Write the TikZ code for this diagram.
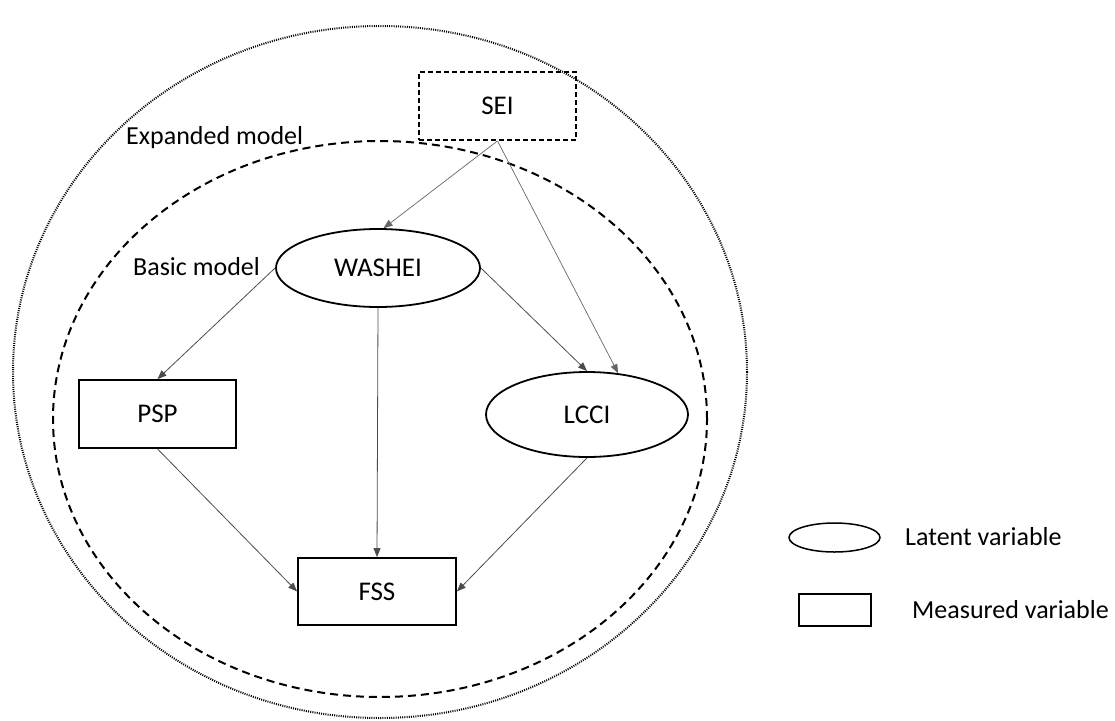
\documentclass[tikz,border=0pt]{standalone}
\usepackage{fontspec}
\setmainfont{Carlito}
\usetikzlibrary{arrows.meta,shapes.geometric}
\begin{document}
\begin{tikzpicture}[x=1pt,y=-1pt,
  lbl/.style={inner sep=0pt,anchor=west,font=\fontsize{26}{31}\selectfont},
  latent/.style={ellipse,draw=black,line width=1.8pt,inner sep=0pt,font=\fontsize{27}{32}\selectfont},
  measured/.style={rectangle,draw=black,line width=1.8pt,inner sep=0pt,font=\fontsize{27}{32}\selectfont},
  conn/.style={draw=black!70,line width=0.8pt,-{Triangle[length=9pt,width=7pt]}},
  connlight/.style={draw=black!60,line width=0.7pt,-{Triangle[length=9pt,width=7pt]}},
  outerring/.style={draw=black,line width=2pt,dash pattern=on 1pt off 1.2pt},
  innerring/.style={draw=black,line width=2pt,dash pattern=on 8pt off 5pt},
]
\useasboundingbox (0,0) rectangle (1115,720);
% model boundaries
\draw[outerring] (380,372) ellipse [x radius=367pt, y radius=346pt];
\draw[innerring] (380,419) ellipse [x radius=327pt, y radius=278pt];
% labels
\node[lbl] (exp) at (126,138) {Expanded model};
\node[lbl] (bas) at (133,267) {Basic model};
% nodes
\node[measured,dash pattern=on 5pt off 3pt,minimum width=157pt,minimum height=68pt] (SEI) at (497.5,106) {SEI};
\node[latent,fill=white,minimum width=204pt,minimum height=78pt] (WASHEI) at (378,268) {WASHEI};
\node[measured,minimum width=157pt,minimum height=68pt] (PSP) at (157.5,414) {PSP};
\node[latent,minimum width=202pt,minimum height=85pt] (LCCI) at (587,414.5) {LCCI};
\node[measured,minimum width=158pt,minimum height=67pt] (FSS) at (377,591.5) {FSS};
% connectors
\draw[connlight] (SEI.south) -- (WASHEI.82);
\draw[connlight] (SEI.south) -- (LCCI.53);
\draw[conn] (WASHEI.west) -- (PSP.north);
\draw[conn] (WASHEI.south) -- (FSS.north);
\draw[conn] (WASHEI.east) -- (LCCI.north);
\draw[conn] (PSP.south) -- (FSS.west);
\draw[conn] (LCCI.south) -- (FSS.east);
% legend
\node[latent,line width=1.5pt,minimum width=91pt,minimum height=29pt] (legE) at (834.5,537.5) {};
\node[lbl] (legEt) at (905,537) {Latent variable};
\node[measured,line width=1.5pt,minimum width=72pt,minimum height=32pt] (legR) at (835,610) {};
\node[lbl] (legRt) at (912,610) {Measured variable};
\end{tikzpicture}
\end{document}
